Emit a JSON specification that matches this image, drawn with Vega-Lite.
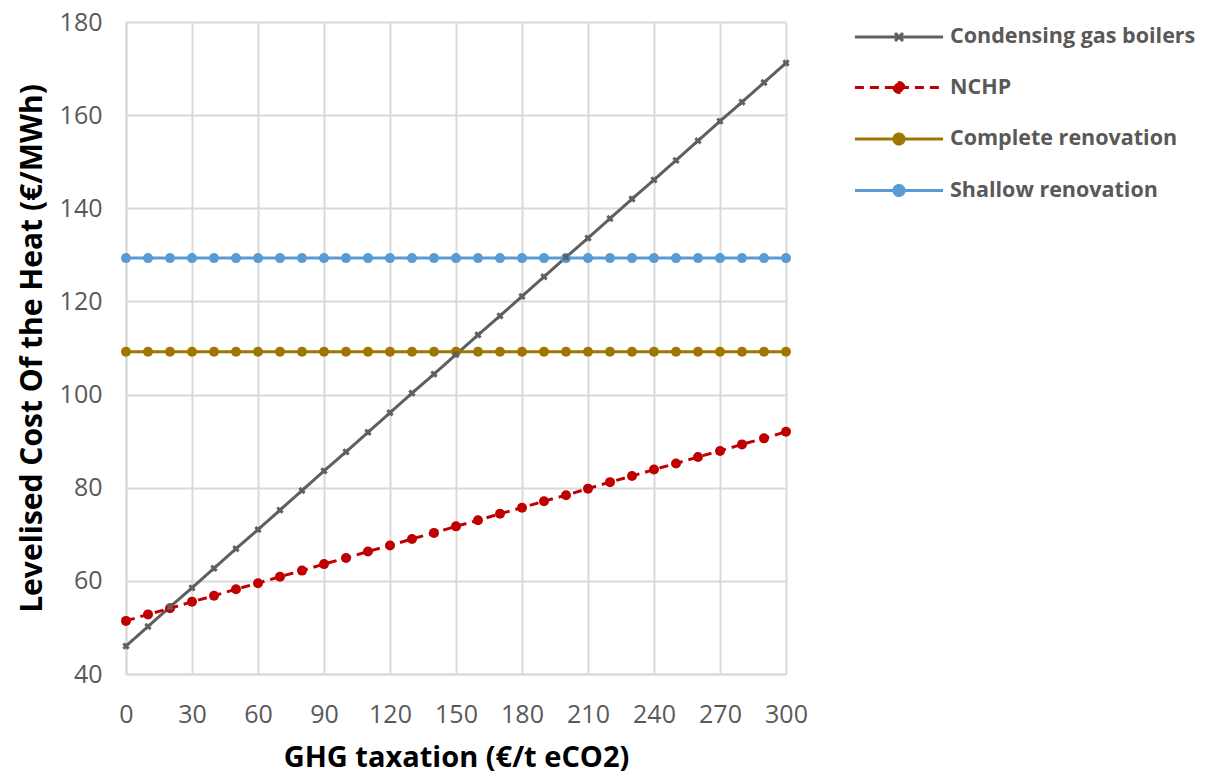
{
  "$schema": "https://vega.github.io/schema/vega-lite/v6.json",
  "width": 660,
  "height": 652,
  "autosize": {"type": "none"},
  "padding": {"left": 126, "top": 22, "right": 420, "bottom": 104},
  "background": "white",
  "config": {
    "font": "Open Sans",
    "view": {"stroke": null},
    "axis": {
      "gridColor": "#d9d9d9",
      "gridWidth": 2,
      "domainColor": "#d9d9d9",
      "domainWidth": 2,
      "ticks": false,
      "labelColor": "#595959",
      "labelFont": "Open Sans",
      "labelFontSize": 25,
      "labelFlush": false,
      "titleColor": "#000000",
      "titleFont": "Open Sans",
      "titleFontWeight": "bold",
      "titleFontSize": 30
    },
    "legend": {
      "title": null,
      "orient": "right",
      "offset": 92,
      "padding": 3,
      "labelFont": "Open Sans",
      "labelFontSize": 21.5,
      "labelFontWeight": "bold",
      "labelColor": "#595959",
      "labelLimit": 400,
      "labelOffset": 39,
      "rowPadding": 27.5,
      "symbolType": "M-4.2,0H4.2M-0.48,0a0.48,0.48 0 1,0 0.96,0a0.48,0.48 0 1,0 -0.96,0",
      "symbolSize": 441,
      "symbolStrokeWidth": 3
    }
  },
  "data": {
    "values": [
      {"tax": 0, "Condensing gas boilers": 46.0, "NCHP": 51.4, "Complete renovation": 109.2, "Shallow renovation": 129.3},
      {"tax": 10, "Condensing gas boilers": 50.2, "NCHP": 52.8, "Complete renovation": 109.2, "Shallow renovation": 129.3},
      {"tax": 20, "Condensing gas boilers": 54.4, "NCHP": 54.1, "Complete renovation": 109.2, "Shallow renovation": 129.3},
      {"tax": 30, "Condensing gas boilers": 58.5, "NCHP": 55.5, "Complete renovation": 109.2, "Shallow renovation": 129.3},
      {"tax": 40, "Condensing gas boilers": 62.7, "NCHP": 56.8, "Complete renovation": 109.2, "Shallow renovation": 129.3},
      {"tax": 50, "Condensing gas boilers": 66.9, "NCHP": 58.2, "Complete renovation": 109.2, "Shallow renovation": 129.3},
      {"tax": 60, "Condensing gas boilers": 71.0, "NCHP": 59.5, "Complete renovation": 109.2, "Shallow renovation": 129.3},
      {"tax": 70, "Condensing gas boilers": 75.2, "NCHP": 60.9, "Complete renovation": 109.2, "Shallow renovation": 129.3},
      {"tax": 80, "Condensing gas boilers": 79.4, "NCHP": 62.2, "Complete renovation": 109.2, "Shallow renovation": 129.3},
      {"tax": 90, "Condensing gas boilers": 83.6, "NCHP": 63.6, "Complete renovation": 109.2, "Shallow renovation": 129.3},
      {"tax": 100, "Condensing gas boilers": 87.7, "NCHP": 64.9, "Complete renovation": 109.2, "Shallow renovation": 129.3},
      {"tax": 110, "Condensing gas boilers": 91.9, "NCHP": 66.3, "Complete renovation": 109.2, "Shallow renovation": 129.3},
      {"tax": 120, "Condensing gas boilers": 96.1, "NCHP": 67.6, "Complete renovation": 109.2, "Shallow renovation": 129.3},
      {"tax": 130, "Condensing gas boilers": 100.3, "NCHP": 69.0, "Complete renovation": 109.2, "Shallow renovation": 129.3},
      {"tax": 140, "Condensing gas boilers": 104.4, "NCHP": 70.3, "Complete renovation": 109.2, "Shallow renovation": 129.3},
      {"tax": 150, "Condensing gas boilers": 108.6, "NCHP": 71.7, "Complete renovation": 109.2, "Shallow renovation": 129.3},
      {"tax": 160, "Condensing gas boilers": 112.8, "NCHP": 73.0, "Complete renovation": 109.2, "Shallow renovation": 129.3},
      {"tax": 170, "Condensing gas boilers": 116.9, "NCHP": 74.4, "Complete renovation": 109.2, "Shallow renovation": 129.3},
      {"tax": 180, "Condensing gas boilers": 121.1, "NCHP": 75.7, "Complete renovation": 109.2, "Shallow renovation": 129.3},
      {"tax": 190, "Condensing gas boilers": 125.3, "NCHP": 77.1, "Complete renovation": 109.2, "Shallow renovation": 129.3},
      {"tax": 200, "Condensing gas boilers": 129.5, "NCHP": 78.4, "Complete renovation": 109.2, "Shallow renovation": 129.3},
      {"tax": 210, "Condensing gas boilers": 133.6, "NCHP": 79.8, "Complete renovation": 109.2, "Shallow renovation": 129.3},
      {"tax": 220, "Condensing gas boilers": 137.8, "NCHP": 81.2, "Complete renovation": 109.2, "Shallow renovation": 129.3},
      {"tax": 230, "Condensing gas boilers": 142.0, "NCHP": 82.5, "Complete renovation": 109.2, "Shallow renovation": 129.3},
      {"tax": 240, "Condensing gas boilers": 146.1, "NCHP": 83.9, "Complete renovation": 109.2, "Shallow renovation": 129.3},
      {"tax": 250, "Condensing gas boilers": 150.3, "NCHP": 85.2, "Complete renovation": 109.2, "Shallow renovation": 129.3},
      {"tax": 260, "Condensing gas boilers": 154.5, "NCHP": 86.6, "Complete renovation": 109.2, "Shallow renovation": 129.3},
      {"tax": 270, "Condensing gas boilers": 158.7, "NCHP": 87.9, "Complete renovation": 109.2, "Shallow renovation": 129.3},
      {"tax": 280, "Condensing gas boilers": 162.8, "NCHP": 89.3, "Complete renovation": 109.2, "Shallow renovation": 129.3},
      {"tax": 290, "Condensing gas boilers": 167.0, "NCHP": 90.6, "Complete renovation": 109.2, "Shallow renovation": 129.3},
      {"tax": 300, "Condensing gas boilers": 171.2, "NCHP": 92.0, "Complete renovation": 109.2, "Shallow renovation": 129.3}
    ]
  },
  "transform": [
    {"fold": ["Condensing gas boilers", "NCHP", "Complete renovation", "Shallow renovation"], "as": ["series", "value"]}
  ],
  "encoding": {
    "x": {
      "field": "tax", "type": "quantitative",
      "scale": {"domain": [0, 300], "nice": false, "zero": false},
      "axis": {"values": [0, 30, 60, 90, 120, 150, 180, 210, 240, 270, 300], "labelPadding": 28, "title": "GHG taxation (€/t eCO2)", "titlePadding": 16, "titleFontSize": 29}
    },
    "y": {
      "field": "value", "type": "quantitative",
      "scale": {"domain": [40, 180], "nice": false, "zero": false},
      "axis": {"values": [40, 60, 80, 100, 120, 140, 160, 180], "labelPadding": 24, "title": "Levelised Cost Of the Heat (€/MWh)", "titlePadding": 12}
    },
    "color": {
      "field": "series", "type": "nominal",
      "scale": {
        "domain": ["Condensing gas boilers", "NCHP", "Complete renovation", "Shallow renovation"],
        "range": ["#5f5f5f", "#c00000", "#9e7600", "#5b9bd5"]
      }
    }
  },
  "layer": [
    {
      "mark": {"type": "line", "strokeWidth": 3},
      "encoding": {
        "strokeDash": {
          "field": "series", "type": "nominal",
          "scale": {
            "domain": ["Condensing gas boilers", "NCHP", "Complete renovation", "Shallow renovation"],
            "range": [[1, 0], [9, 6], [1, 0], [1, 0]]
          },
          "legend": null
        },
        "shape": {
          "field": "series", "type": "nominal",
          "scale": {
            "domain": ["Condensing gas boilers", "NCHP", "Complete renovation", "Shallow renovation"],
            "range": [
              "M-4.2,0H4.2M-0.38,-0.38L0.38,0.38M0.38,-0.38L-0.38,0.38M-0.1,0H0.1",
              "M-4.2,0H4.2M-0.48,0a0.48,0.48 0 1,0 0.96,0a0.48,0.48 0 1,0 -0.96,0",
              "M-4.2,0H4.2M-0.48,0a0.48,0.48 0 1,0 0.96,0a0.48,0.48 0 1,0 -0.96,0",
              "M-4.2,0H4.2M-0.48,0a0.48,0.48 0 1,0 0.96,0a0.48,0.48 0 1,0 -0.96,0"
            ]
          }
        },
        "color": {
          "field": "series", "type": "nominal",
          "legend": {
            "encoding": {
              "symbols": {
                "update": {
                  "fill": {"scale": "color", "field": "value"},
                  "fillOpacity": {"value": 1},
                  "strokeDash": {"signal": "datum.value === 'NCHP' ? [9, 6] : [1, 0]"}
                }
              }
            }
          }
        }
      }
    },
    {
      "transform": [{"filter": "datum.series !== 'Condensing gas boilers'"}],
      "mark": {"type": "point", "shape": "circle", "filled": true, "opacity": 1, "size": 100},
      "encoding": {"color": {"field": "series", "type": "nominal", "legend": null}}
    },
    {
      "transform": [{"filter": "datum.series === 'Condensing gas boilers'"}],
      "mark": {"type": "point", "shape": "cross", "angle": 45, "filled": true, "opacity": 1, "size": 55},
      "encoding": {"color": {"field": "series", "type": "nominal", "legend": null}}
    }
  ]
}
